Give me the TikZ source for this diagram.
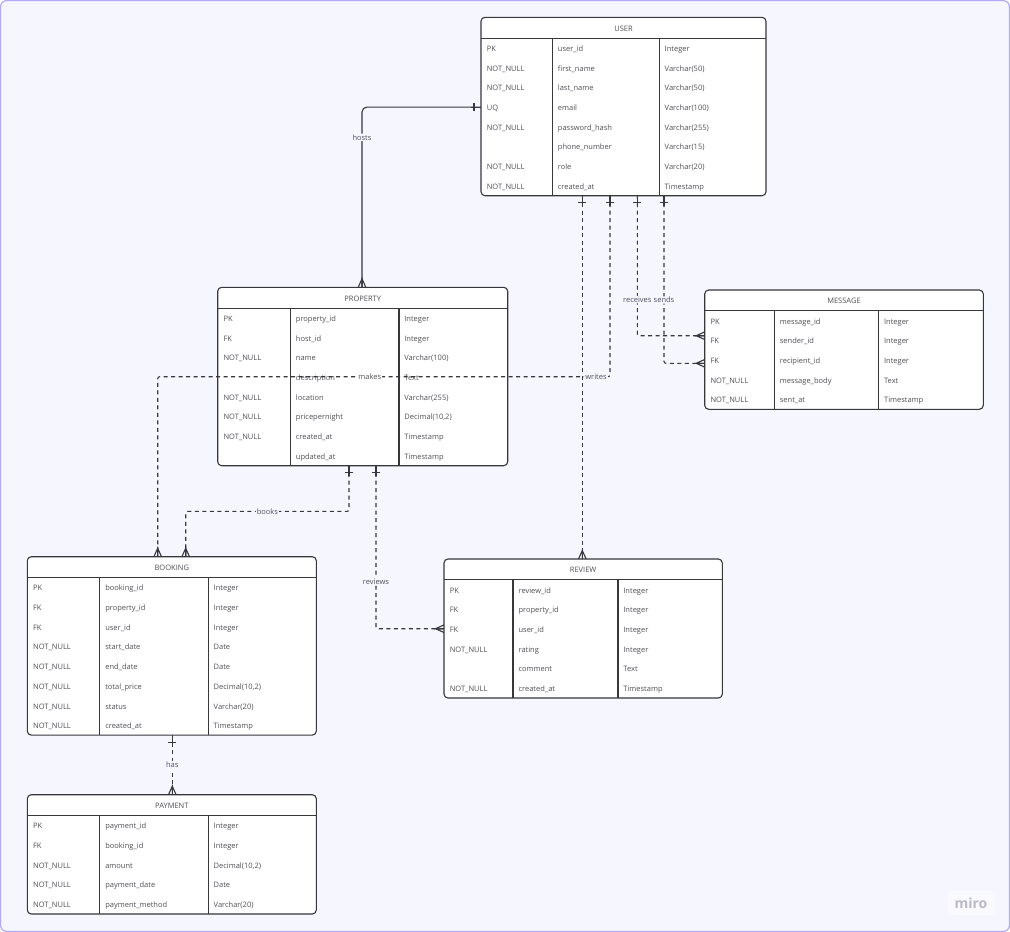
\documentclass[tikz,border=0pt]{standalone}
\usepackage{fontspec}
\setmainfont{Open Sans}
\usetikzlibrary{calc}
\definecolor{bgc}{RGB}{245,246,255}
\definecolor{bordc}{RGB}{178,170,248}
\definecolor{linec}{RGB}{55,55,60}
\definecolor{txtc}{RGB}{80,80,86}
\definecolor{mirobox}{RGB}{249,249,254}
\definecolor{mirotxt}{RGB}{186,186,200}

\tikzset{
  tablebox/.style={draw=linec, line width=1.1pt, fill=white, rounded corners=4pt, inner sep=0, outer sep=0},
  tableline/.style={draw=linec, line width=1.1pt},
  celltext/.style={font=\fontsize{7.5}{9}\selectfont, text=txtc, inner sep=0, text height=7pt, text depth=0pt, anchor=west},
  titletext/.style={celltext, anchor=center},
  conn/.style={draw=linec, line width=1.1pt, dash pattern=on 4pt off 3.5pt},
  solidconn/.style={draw=linec, line width=1.1pt},
  lbl/.style={font=\fontsize{7.5}{9}\selectfont, text=txtc, fill=bgc, inner sep=1pt, text height=5.4pt, text depth=0pt},
  crow/.pic={\draw[solidconn] (-8.5,0) -- (0,3.8) (-8.5,0) -- (0,-3.8) (-10,0) -- (0,0);},
  onemark/.pic={\draw[solidconn] (7,-4) -- (7,4) (0,0) -- (10,0);},
}

\newcommand\erdtab[9]{%
  \node[tablebox, anchor=north west, minimum width=#4, minimum height={20.8+#7*19.7}] (#1) at (#2,#3) {};
  \draw[tableline] ($(#1.north west)+(0,20.8)$) -- ($(#1.north east)+(0,20.8)$);
  \draw[tableline] ($(#1.north west)+(#5,20.8)$) -- ($(#1.south west)+(#5,0)$);
  \draw[tableline] ($(#1.north west)+(#6,20.8)$) -- ($(#1.south west)+(#6,0)$);
  \node[titletext] (#1-title) at ($(#1.north)+(0,10.2)$) {#8};
  \foreach \ca/\cb/\cc [count=\i] in {#9} {
    \node[celltext] (#1-a\i) at ($(#1.north west)+(5.6,{20.8+19.7*\i-9.85})$) {\ca};
    \node[celltext] (#1-b\i) at ($(#1.north west)+({#5+5.4},{20.8+19.7*\i-9.85})$) {\cb};
    \node[celltext] (#1-c\i) at ($(#1.north west)+({#6+5.2},{20.8+19.7*\i-9.85})$) {\cc};
  }
}

\begin{document}
\begin{tikzpicture}[x=1pt,y=-1pt]
\useasboundingbox (0,0) rectangle (1010,932);
\draw[fill=bgc, draw=bordc, line width=1.2pt, rounded corners=6pt] (0.6,0.6) rectangle (1009.4,931.4);

% tables
\erdtab{user}{481}{17.3}{285}{71.3}{178.3}{8}{USER}{PK/user\_id/Integer, NOT\_NULL/first\_name/Varchar(50), NOT\_NULL/last\_name/Varchar(50), UQ/email/Varchar(100), NOT\_NULL/password\_hash/Varchar(255), /phone\_number/Varchar(15), NOT\_NULL/role/Varchar(20), NOT\_NULL/created\_at/Timestamp}
\erdtab{property}{217.7}{287.3}{290}{72.6}{181.3}{8}{PROPERTY}{PK/property\_id/Integer, FK/host\_id/Integer, NOT\_NULL/name/Varchar(100), /description/Text, NOT\_NULL/location/Varchar(255), NOT\_NULL/pricepernight/Decimal(10{,}2), NOT\_NULL/created\_at/Timestamp, /updated\_at/Timestamp}
\erdtab{message}{704.7}{290}{278.6}{69.6}{174}{5}{MESSAGE}{PK/message\_id/Integer, FK/sender\_id/Integer, FK/recipient\_id/Integer, NOT\_NULL/message\_body/Text, NOT\_NULL/sent\_at/Timestamp}
\erdtab{review}{444}{559}{278.3}{69}{174}{6}{REVIEW}{PK/review\_id/Integer, FK/property\_id/Integer, FK/user\_id/Integer, NOT\_NULL/rating/Integer, /comment/Text, NOT\_NULL/created\_at/Timestamp}
\erdtab{booking}{27.3}{556.7}{289}{72.4}{181}{8}{BOOKING}{PK/booking\_id/Integer, FK/property\_id/Integer, FK/user\_id/Integer, NOT\_NULL/start\_date/Date, NOT\_NULL/end\_date/Date, NOT\_NULL/total\_price/Decimal(10{,}2), NOT\_NULL/status/Varchar(20), NOT\_NULL/created\_at/Timestamp}
\erdtab{payment}{27.3}{794.7}{289}{72.4}{181}{5}{PAYMENT}{PK/payment\_id/Integer, FK/booking\_id/Integer, NOT\_NULL/amount/Decimal(10{,}2), NOT\_NULL/payment\_date/Date, NOT\_NULL/payment\_method/Varchar(20)}

% attachment points
\coordinate (u1) at ($(user.south west)+(101.3,0)$);
\coordinate (u2) at ($(user.south west)+(129,0)$);
\coordinate (u3) at ($(user.south west)+(156.3,0)$);
\coordinate (u4) at ($(user.south west)+(183,0)$);
\coordinate (p1) at ($(property.south west)+(131.3,0)$);
\coordinate (p2) at ($(property.south west)+(158.3,0)$);
\coordinate (b1) at ($(booking.south west)+(145,0)$);
\coordinate (hU) at ($(user.north west)+(0,89.75)$);
\coordinate (pT) at ($(property.north west)+(144.3,0)$);
\coordinate (rT) at (u1 |- review.north);
\coordinate (bM) at ($(booking.north west)+(130.4,0)$);
\coordinate (bB) at ($(booking.north west)+(158.4,0)$);
\coordinate (mkR) at ($(u2)+(0,181)$);
\coordinate (mR) at ($(message.north west)+(0,45.7)$);
\coordinate (mS) at ($(message.north west)+(0,73.3)$);
\coordinate (bk) at ($(p1)+(0,45.7)$);
\coordinate (rR) at ($(review.north west)+(0,69.7)$);
\coordinate (payT) at (b1 |- payment.north);

% hosts
\draw[solidconn, rounded corners=5pt] (hU) -| (pT) node[lbl, pos=0.584] (lhosts) {hosts};
\pic[rotate=180] at (hU) {onemark};
\pic[rotate=-90] at (pT) {crow};

% writes
\draw[conn] (u1) -- (rT);
\pic[rotate=-90] at (u1) {onemark};
\pic[rotate=-90] at (rT) {crow};

% makes
\draw[conn, rounded corners=2pt] (u2) -- (mkR) -- (mkR -| bM) node[lbl, fill=white, pos=0.531] (lmakes) {makes} -- (bM);
\node[lbl] (lwrites) at (596,377) {writes};
\pic[rotate=-90] at (u2) {onemark};
\pic[rotate=-90] at (bM) {crow};

% receives / sends
\draw[conn, rounded corners=2pt] (u3) |- (mR) node[lbl, pos=0.371] (lrec) {receives};
\draw[conn, rounded corners=2pt] (u4) |- (mS) node[lbl, pos=0.311] (lsend) {sends};
\pic[rotate=-90] at (u3) {onemark};
\pic[rotate=-90] at (u4) {onemark};
\pic at (mR) {crow};
\pic at (mS) {crow};

% books
\draw[conn, rounded corners=2pt] (p1) -- (bk) -- (bk -| bB) node[lbl, pos=0.5] (lbooks) {books} -- (bB);
\pic[rotate=-90] at (p1) {onemark};
\pic[rotate=-90] at (bB) {crow};

% reviews
\draw[conn, rounded corners=2pt] (p2) |- (rR) node[lbl, pos=0.356] (lrev) {reviews};
\pic[rotate=-90] at (p2) {onemark};
\pic at (rR) {crow};

% has
\draw[conn] (b1) -- (payT) node[lbl, midway] (lhas) {has};
\pic[rotate=-90] at (b1) {onemark};
\pic[rotate=-90] at (payT) {crow};

% watermark
\node[fill=mirobox, minimum width=46, minimum height=24, inner sep=0, text=mirotxt, font=\fontsize{14}{16}\selectfont\bfseries] (miro) at (971,903) {miro};
\end{tikzpicture}
\end{document}
